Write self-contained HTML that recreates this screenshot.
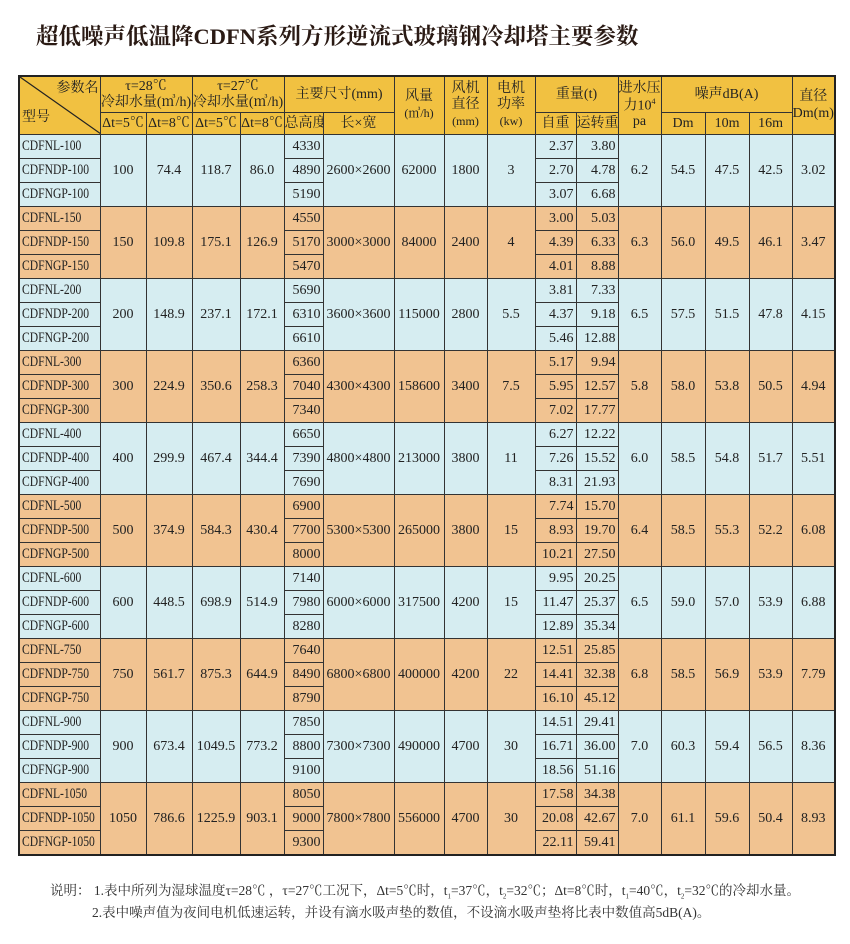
<!DOCTYPE html>
<html><head><meta charset="utf-8"><style>
body{margin:0;width:850px;height:944px;background:#fff;position:relative;font-family:"Liberation Serif","Noto Serif CJK SC",serif;color:#222;overflow:hidden}
.title{position:absolute;left:36px;top:19px;font-size:22.5px;font-weight:bold;color:#2a1a14;white-space:nowrap;font-family:"Liberation Serif","Noto Serif CJK SC",serif}
table{position:absolute;left:18px;top:75px;border-collapse:collapse;table-layout:fixed;width:816px;border:2px solid #222}
td{border:1px solid #333;padding:0;font-size:14px;text-align:center;overflow:hidden;white-space:nowrap;line-height:1}
tr.d td{height:23px}
.h td{background:#f1c141;font-size:14px;line-height:1.15}
.b td{background:#d6edf1}
.o td{background:#f1c391}
td.m{text-align:left;padding-left:2px}
td.r{text-align:right;padding-right:2px}
.n{display:inline-block;font-size:14.5px;transform:scaleX(.8);transform-origin:left center}
.sm{font-size:12px}
.note{position:absolute;font-size:13.5px;white-space:nowrap;color:#333}
</style></head><body>
<div class="title">超低噪声低温降CDFN系列方形逆流式玻璃钢冷却塔主要参数</div>
<table>
<colgroup><col style="width:81px"><col style="width:46px"><col style="width:46px"><col style="width:48px"><col style="width:44px"><col style="width:39px"><col style="width:71px"><col style="width:50px"><col style="width:43px"><col style="width:48px"><col style="width:41px"><col style="width:42px"><col style="width:43px"><col style="width:44px"><col style="width:44px"><col style="width:43px"><col style="width:43px"></colgroup>
<tr class="h" style="height:36px"><td rowspan="2" style="position:relative;height:57px"><svg width="81" height="57" style="position:absolute;left:0;top:0"><line x1="0" y1="0" x2="81" y2="57" stroke="#222" stroke-width="1.2"/></svg><span style="position:absolute;right:1px;top:4px">参数名</span><span style="position:absolute;left:2px;top:33px">型号</span></td>
<td colspan="2">τ=28℃<br>冷却水量(㎥/h)</td><td colspan="2">τ=27℃<br>冷却水量(㎥/h)</td><td colspan="2">主要尺寸(mm)</td><td rowspan="2">风量<br><span class="sm">(㎥/h)</span></td><td rowspan="2">风机<br>直径<br><span class="sm">(mm)</span></td><td rowspan="2">电机<br>功率<br><span class="sm">(kw)</span></td><td colspan="2">重量(t)</td><td rowspan="2">进水压<br>力10<sup style="font-size:8px">4</sup><br>pa</td><td colspan="3">噪声dB(A)</td><td rowspan="2">直径<br>Dm(m)</td></tr>
<tr class="h" style="height:21px"><td class="sm">Δt=5℃</td><td class="sm">Δt=8℃</td><td class="sm">Δt=5℃</td><td class="sm">Δt=8℃</td><td class="sm">总高度</td><td>长×宽</td><td>自重</td><td class="sm">运转重</td><td class="sm">Dm</td><td class="sm">10m</td><td class="sm">16m</td></tr>

<tr class="d b"><td class="m"><span class="n">CDFNL-100</span></td><td rowspan="3">100</td><td rowspan="3">74.4</td><td rowspan="3">118.7</td><td rowspan="3">86.0</td><td class="r">4330</td><td rowspan="3">2600×2600</td><td rowspan="3">62000</td><td rowspan="3">1800</td><td rowspan="3">3</td><td class="r">2.37</td><td class="r">3.80</td><td rowspan="3">6.2</td><td rowspan="3">54.5</td><td rowspan="3">47.5</td><td rowspan="3">42.5</td><td rowspan="3">3.02</td></tr>
<tr class="d b"><td class="m"><span class="n">CDFNDP-100</span></td><td class="r">4890</td><td class="r">2.70</td><td class="r">4.78</td></tr>
<tr class="d b"><td class="m"><span class="n">CDFNGP-100</span></td><td class="r">5190</td><td class="r">3.07</td><td class="r">6.68</td></tr>

<tr class="d o"><td class="m"><span class="n">CDFNL-150</span></td><td rowspan="3">150</td><td rowspan="3">109.8</td><td rowspan="3">175.1</td><td rowspan="3">126.9</td><td class="r">4550</td><td rowspan="3">3000×3000</td><td rowspan="3">84000</td><td rowspan="3">2400</td><td rowspan="3">4</td><td class="r">3.00</td><td class="r">5.03</td><td rowspan="3">6.3</td><td rowspan="3">56.0</td><td rowspan="3">49.5</td><td rowspan="3">46.1</td><td rowspan="3">3.47</td></tr>
<tr class="d o"><td class="m"><span class="n">CDFNDP-150</span></td><td class="r">5170</td><td class="r">4.39</td><td class="r">6.33</td></tr>
<tr class="d o"><td class="m"><span class="n">CDFNGP-150</span></td><td class="r">5470</td><td class="r">4.01</td><td class="r">8.88</td></tr>

<tr class="d b"><td class="m"><span class="n">CDFNL-200</span></td><td rowspan="3">200</td><td rowspan="3">148.9</td><td rowspan="3">237.1</td><td rowspan="3">172.1</td><td class="r">5690</td><td rowspan="3">3600×3600</td><td rowspan="3">115000</td><td rowspan="3">2800</td><td rowspan="3">5.5</td><td class="r">3.81</td><td class="r">7.33</td><td rowspan="3">6.5</td><td rowspan="3">57.5</td><td rowspan="3">51.5</td><td rowspan="3">47.8</td><td rowspan="3">4.15</td></tr>
<tr class="d b"><td class="m"><span class="n">CDFNDP-200</span></td><td class="r">6310</td><td class="r">4.37</td><td class="r">9.18</td></tr>
<tr class="d b"><td class="m"><span class="n">CDFNGP-200</span></td><td class="r">6610</td><td class="r">5.46</td><td class="r">12.88</td></tr>

<tr class="d o"><td class="m"><span class="n">CDFNL-300</span></td><td rowspan="3">300</td><td rowspan="3">224.9</td><td rowspan="3">350.6</td><td rowspan="3">258.3</td><td class="r">6360</td><td rowspan="3">4300×4300</td><td rowspan="3">158600</td><td rowspan="3">3400</td><td rowspan="3">7.5</td><td class="r">5.17</td><td class="r">9.94</td><td rowspan="3">5.8</td><td rowspan="3">58.0</td><td rowspan="3">53.8</td><td rowspan="3">50.5</td><td rowspan="3">4.94</td></tr>
<tr class="d o"><td class="m"><span class="n">CDFNDP-300</span></td><td class="r">7040</td><td class="r">5.95</td><td class="r">12.57</td></tr>
<tr class="d o"><td class="m"><span class="n">CDFNGP-300</span></td><td class="r">7340</td><td class="r">7.02</td><td class="r">17.77</td></tr>

<tr class="d b"><td class="m"><span class="n">CDFNL-400</span></td><td rowspan="3">400</td><td rowspan="3">299.9</td><td rowspan="3">467.4</td><td rowspan="3">344.4</td><td class="r">6650</td><td rowspan="3">4800×4800</td><td rowspan="3">213000</td><td rowspan="3">3800</td><td rowspan="3">11</td><td class="r">6.27</td><td class="r">12.22</td><td rowspan="3">6.0</td><td rowspan="3">58.5</td><td rowspan="3">54.8</td><td rowspan="3">51.7</td><td rowspan="3">5.51</td></tr>
<tr class="d b"><td class="m"><span class="n">CDFNDP-400</span></td><td class="r">7390</td><td class="r">7.26</td><td class="r">15.52</td></tr>
<tr class="d b"><td class="m"><span class="n">CDFNGP-400</span></td><td class="r">7690</td><td class="r">8.31</td><td class="r">21.93</td></tr>

<tr class="d o"><td class="m"><span class="n">CDFNL-500</span></td><td rowspan="3">500</td><td rowspan="3">374.9</td><td rowspan="3">584.3</td><td rowspan="3">430.4</td><td class="r">6900</td><td rowspan="3">5300×5300</td><td rowspan="3">265000</td><td rowspan="3">3800</td><td rowspan="3">15</td><td class="r">7.74</td><td class="r">15.70</td><td rowspan="3">6.4</td><td rowspan="3">58.5</td><td rowspan="3">55.3</td><td rowspan="3">52.2</td><td rowspan="3">6.08</td></tr>
<tr class="d o"><td class="m"><span class="n">CDFNDP-500</span></td><td class="r">7700</td><td class="r">8.93</td><td class="r">19.70</td></tr>
<tr class="d o"><td class="m"><span class="n">CDFNGP-500</span></td><td class="r">8000</td><td class="r">10.21</td><td class="r">27.50</td></tr>

<tr class="d b"><td class="m"><span class="n">CDFNL-600</span></td><td rowspan="3">600</td><td rowspan="3">448.5</td><td rowspan="3">698.9</td><td rowspan="3">514.9</td><td class="r">7140</td><td rowspan="3">6000×6000</td><td rowspan="3">317500</td><td rowspan="3">4200</td><td rowspan="3">15</td><td class="r">9.95</td><td class="r">20.25</td><td rowspan="3">6.5</td><td rowspan="3">59.0</td><td rowspan="3">57.0</td><td rowspan="3">53.9</td><td rowspan="3">6.88</td></tr>
<tr class="d b"><td class="m"><span class="n">CDFNDP-600</span></td><td class="r">7980</td><td class="r">11.47</td><td class="r">25.37</td></tr>
<tr class="d b"><td class="m"><span class="n">CDFNGP-600</span></td><td class="r">8280</td><td class="r">12.89</td><td class="r">35.34</td></tr>

<tr class="d o"><td class="m"><span class="n">CDFNL-750</span></td><td rowspan="3">750</td><td rowspan="3">561.7</td><td rowspan="3">875.3</td><td rowspan="3">644.9</td><td class="r">7640</td><td rowspan="3">6800×6800</td><td rowspan="3">400000</td><td rowspan="3">4200</td><td rowspan="3">22</td><td class="r">12.51</td><td class="r">25.85</td><td rowspan="3">6.8</td><td rowspan="3">58.5</td><td rowspan="3">56.9</td><td rowspan="3">53.9</td><td rowspan="3">7.79</td></tr>
<tr class="d o"><td class="m"><span class="n">CDFNDP-750</span></td><td class="r">8490</td><td class="r">14.41</td><td class="r">32.38</td></tr>
<tr class="d o"><td class="m"><span class="n">CDFNGP-750</span></td><td class="r">8790</td><td class="r">16.10</td><td class="r">45.12</td></tr>

<tr class="d b"><td class="m"><span class="n">CDFNL-900</span></td><td rowspan="3">900</td><td rowspan="3">673.4</td><td rowspan="3">1049.5</td><td rowspan="3">773.2</td><td class="r">7850</td><td rowspan="3">7300×7300</td><td rowspan="3">490000</td><td rowspan="3">4700</td><td rowspan="3">30</td><td class="r">14.51</td><td class="r">29.41</td><td rowspan="3">7.0</td><td rowspan="3">60.3</td><td rowspan="3">59.4</td><td rowspan="3">56.5</td><td rowspan="3">8.36</td></tr>
<tr class="d b"><td class="m"><span class="n">CDFNDP-900</span></td><td class="r">8800</td><td class="r">16.71</td><td class="r">36.00</td></tr>
<tr class="d b"><td class="m"><span class="n">CDFNGP-900</span></td><td class="r">9100</td><td class="r">18.56</td><td class="r">51.16</td></tr>

<tr class="d o"><td class="m"><span class="n">CDFNL-1050</span></td><td rowspan="3">1050</td><td rowspan="3">786.6</td><td rowspan="3">1225.9</td><td rowspan="3">903.1</td><td class="r">8050</td><td rowspan="3">7800×7800</td><td rowspan="3">556000</td><td rowspan="3">4700</td><td rowspan="3">30</td><td class="r">17.58</td><td class="r">34.38</td><td rowspan="3">7.0</td><td rowspan="3">61.1</td><td rowspan="3">59.6</td><td rowspan="3">50.4</td><td rowspan="3">8.93</td></tr>
<tr class="d o"><td class="m"><span class="n">CDFNDP-1050</span></td><td class="r">9000</td><td class="r">20.08</td><td class="r">42.67</td></tr>
<tr class="d o"><td class="m"><span class="n">CDFNGP-1050</span></td><td class="r">9300</td><td class="r">22.11</td><td class="r">59.41</td></tr>
</table>
<div class="note" style="left:50px;top:879px">说明：&nbsp;1.表中所列为湿球温度τ=28℃ ，τ=27℃工况下，Δt=5℃时，t<sub style="font-size:7px">1</sub>=37℃，t<sub style="font-size:7px">2</sub>=32℃；Δt=8℃时，t<sub style="font-size:7px">1</sub>=40℃，t<sub style="font-size:7px">2</sub>=32℃的冷却水量。</div>
<div class="note" style="left:92px;top:901px">2.表中噪声值为夜间电机低速运转，并设有滴水吸声垫的数值，不设滴水吸声垫将比表中数值高5dB(A)。</div>
</body></html>
